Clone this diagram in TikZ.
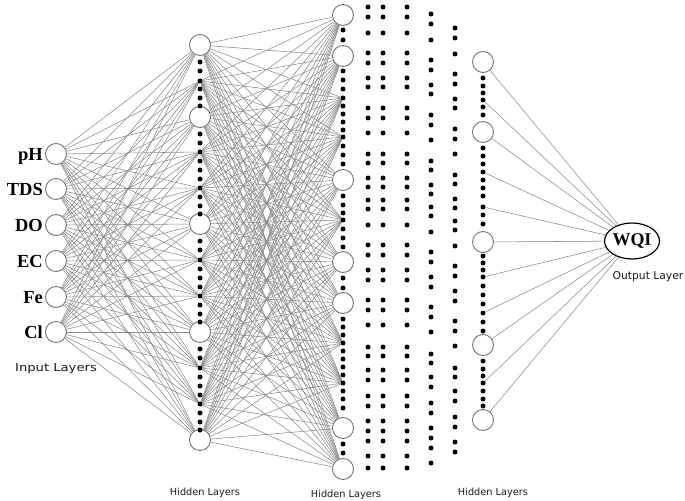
\documentclass[tikz,border=0pt]{standalone}
\usepackage{fontspec}
\setmainfont{Liberation Serif}
\newfontfamily\labelsans{DejaVu Sans}
\usetikzlibrary{shapes.geometric}
\begin{document}
\begin{tikzpicture}[x=1bp,y=-1bp,
  neuron/.style={circle,draw=black!55,line width=0.9bp,fill=white,minimum size=21bp,inner sep=0pt},
  dotnode/.style={circle,fill=black,minimum size=5bp,inner sep=0pt},
  edge/.style={draw=black!45,line width=0.55bp},
  inlabel/.style={font=\fontsize{18.5}{20}\selectfont\bfseries,anchor=base east,inner sep=0pt},
  caption/.style={font=\labelsans\fontsize{9.8}{11}\selectfont,text=black!90,inner sep=0pt}]
\useasboundingbox (0,0) rectangle (685,501);

% input layer
\foreach \n/\y/\t in {1/154/pH,2/189/TDS,3/225/DO,4/261/EC,5/297/Fe,6/332/Cl}{
  \node[neuron] (i\n) at (56,\y) {};
  \node[inlabel] (li\n) at (43,\y+6.5) {\t};
}

% hidden layer 1 (x=200)
\foreach \k/\y in {1/45,3/117,6/224,9/332,12/440}{\node[neuron] (a\k) at (200,\y) {};}
\foreach \k/\y in {2/81,4/152,5/188,7/260,8/296,10/368,11/404}{\node[dotnode] (a\k) at (200,\y) {};}
\foreach \y in {62,71,89,98,106,134,143,161,170,179,197,206,214,241,250,269,278,287,305,314,322,349,358,377,386,395,413,422,430}{
  \fill (200,\y) circle (2.5);}

% hidden layer 2 (x=343)
\foreach \k/\y in {1/15,2/56,5/180,7/262,8/303,11/428,12/469}{\node[neuron] (b\k) at (343,\y) {};}
\foreach \k/\y in {3/98,4/137,6/220,9/343,10/383}{\node[dotnode] (b\k) at (343,\y) {};}
\foreach \y in {30,40,71,80,89,106,114,122,130,146,155,164,196,205,213,229,238,247,278,288,319,327,335,351,359,367,375,391,399,408,444,453}{
  \fill (343,\y) circle (2.5);}

% hidden layer 3 (x=483)
\foreach \k/\y in {1/62,3/132,6/242,9/345,11/420}{\node[neuron] (c\k) at (483,\y) {};}
\foreach \k/\y in {2/100,4/172,5/207,7/277,8/313,10/383}{\node[dotnode] (c\k) at (483,\y) {};}
\foreach \y in {78,86,93,107,115,148,156,164,180,188,196,215,224,256,263,270,286,295,304,322,331,361,369,376,391,399,406}{
  \fill (483,\y) circle (2.5);}

% output
\node[ellipse,draw=black,line width=1.2bp,fill=white,minimum width=46bp,minimum height=36bp,inner sep=0pt,
  font=\fontsize{18}{20}\selectfont\bfseries] (wqi) at (632,241) {WQI};

% connectors
\foreach \i in {1,...,6}{\foreach \k in {1,...,12}{\draw[edge] (i\i) -- (a\k);}}
\foreach \k in {1,...,12}{\foreach \m in {1,...,12}{\draw[edge] (a\k) -- (b\m);}}
\foreach \k in {1,...,11}{\draw[edge] (c\k) -- (wqi);}

% intermediate dotted columns
\foreach \y in {7,17,33,53,63,78,87,108,118,133,154,163,178,187,200,209,225,245,255,270,280,300,310,325,347,356,370,380,396,406,421,431,441,456,468}{
  \fill (368,\y) circle (2.5);
  \fill (383,\y) circle (2.5);
  \fill (407,\y) circle (2.5);}
\foreach \y in {7,17,33,53,63,78,87,108,118,133,154,163,178,187,200,209,225,245,255,270,280,300,310,325,347,356,370,380,396,406,421,431,441,456}{
  \fill (431,\y+7) circle (2.5);}
\foreach \y in {7,17,33,53,63,78,87,108,118,133,154,163,178,187,200,209,225,245,255,270,280,300,310,325,347,356,370,380,396,406,421,431}{
  \fill (455,\y+21) circle (2.5);}

% captions
\node[caption] (cin) at (56,369) {\scalebox{1.2}[1]{\fontsize{11}{12}\selectfont Input Layers}};
\node[caption] (ch1) at (205,493) {Hidden Layers};
\node[caption] (ch2) at (346,495) {Hidden Layers};
\node[caption] (ch3) at (493,493) {Hidden Layers};
\node[caption,font=\labelsans\fontsize{10.8}{12}\selectfont] (cout) at (648,277) {Output Layer};
\end{tikzpicture}
\end{document}
